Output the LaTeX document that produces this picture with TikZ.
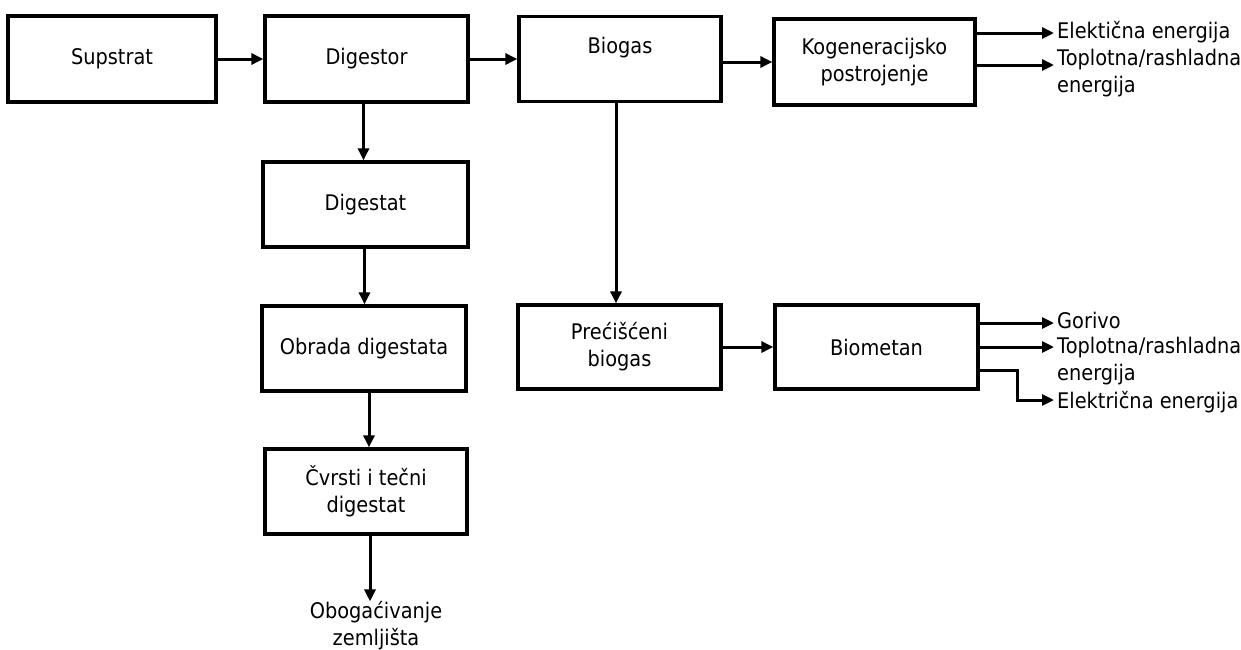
\documentclass[tikz,border=0pt]{standalone}
\usepackage{fontspec}
\setmainfont{DejaVu Sans}[FakeStretch=0.9]
\usetikzlibrary{arrows.meta}
\begin{document}
\begin{tikzpicture}[x=1pt,y=-1pt,
  every node/.style={font=\fontsize{21.5pt}{27pt}\selectfont, text=black},
  box/.style={draw, line width=3.3pt, align=center, inner sep=0pt},
  lbl/.style={align=left, inner sep=0pt},
  arr/.style={line width=3pt, -{Triangle[length=12pt,width=11pt]}},
  ln/.style={line width=3pt}]
\useasboundingbox (0,0) rectangle (1241,649);
\node[box, minimum width=208pt, minimum height=86pt] (sup) at (112,59) {Supstrat};
\node[box, minimum width=203pt, minimum height=86pt] (dig) at (366.5,59) {Digestor};
\node[box, minimum width=202pt, minimum height=85pt] (bio) at (620,59) {Biogas\\ \mbox{}};
\node[box, minimum width=201pt, minimum height=86pt] (kog) at (874.5,62) {Kogeneracijsko\\postrojenje};
\node[box, minimum width=205pt, minimum height=85pt] (dgt) at (365.5,204.5) {Digestat};
\node[box, minimum width=204pt, minimum height=85pt] (obr) at (364,348.5) {Obrada digestata};
\node[box, minimum width=202pt, minimum height=85pt] (cvr) at (366,491.5) {Čvrsti i tečni\\digestat};
\node[box, minimum width=203pt, minimum height=84pt] (pre) at (619.5,347) {Prećišćeni\\biogas};
\node[box, minimum width=203pt, minimum height=84pt] (bme) at (876.5,347) {Biometan};
\node[align=center, inner sep=0pt] (obo) at (376,626) {Obogaćivanje\\zemljišta};

\node[lbl, anchor=base west] (k1) at (1057,38) {Elektična energija};
\node[lbl, anchor=north west] (k2) at (1057,48.5) {Toplotna/rashladna\\energija};
\node[lbl, anchor=base west] (b1) at (1057,328) {Gorivo};
\node[lbl, anchor=north west] (b2) at (1057,336.5) {Toplotna/rashladna\\energija};
\node[lbl, anchor=base west] (b3) at (1057,408) {Električna energija};

\coordinate (kA) at (kog.east |- 0,33);
\coordinate (kB) at (kog.east |- 0,65);
\coordinate (bA) at (bme.east |- 0,323);
\coordinate (bB) at (bme.east |- 0,347);
\coordinate (bC) at (bme.east |- 0,370);
\coordinate (bCk) at (1017,370);
\coordinate (bCe) at (1017,400);

\draw[arr] (sup.east) -- (dig.west);
\draw[arr] (dig.east) -- (bio.west);
\draw[arr] (bio.east |- kog.west) -- (kog.west);
\draw[arr] ([xshift=-3pt]dig.south) -- ([xshift=-3pt]dig.south |- dgt.north);
\draw[arr] ([xshift=-1pt]dgt.south) -- ([xshift=-1pt]dgt.south |- obr.north);
\draw[arr] ([xshift=5pt]obr.south) -- ([xshift=5pt]obr.south |- cvr.north);
\draw[arr] ([xshift=4pt]cvr.south) -- ([xshift=4pt]cvr.south |- obo.north);
\draw[arr] ([xshift=-4pt]bio.south) -- ([xshift=-4pt]bio.south |- pre.north);
\draw[arr] (pre.east) -- (bme.west);

\draw[arr] (kA) -- ([xshift=-3pt]k1.west |- kA);
\draw[arr] (kB) -- ([xshift=-3pt]k2.west |- kB);
\draw[arr] (bA) -- ([xshift=-3pt]b1.west |- bA);
\draw[arr] (bB) -- ([xshift=-3pt]b2.west |- bB);
\draw[arr] (bC) -- (bCk) -- (bCe) -- ([xshift=-3pt]b3.west |- bCe);
\end{tikzpicture}
\end{document}
